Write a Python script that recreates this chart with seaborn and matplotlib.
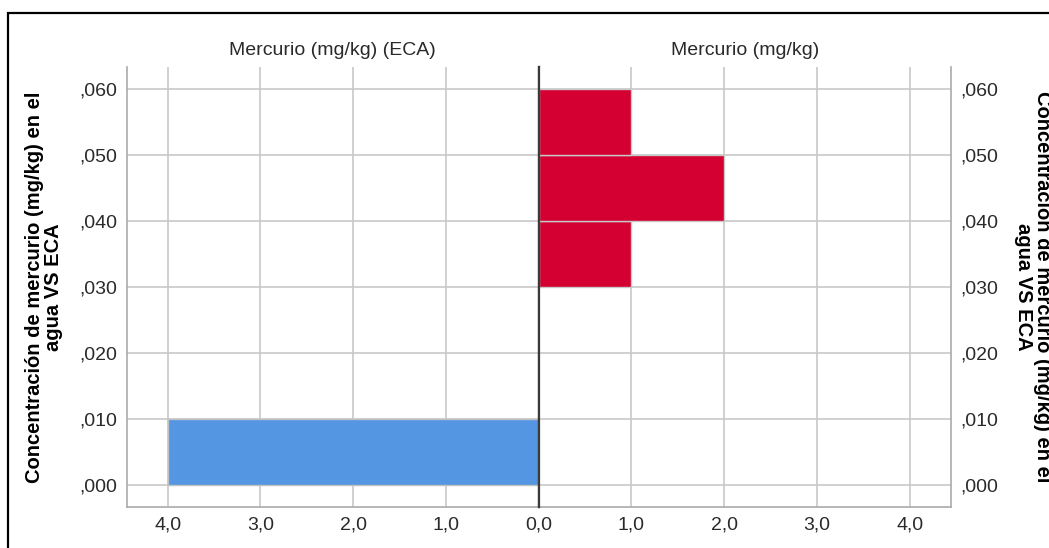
import matplotlib
matplotlib.use('Agg')
import matplotlib.pyplot as plt
import seaborn as sns
import numpy as np

# concentracion (centro de cada clase de 0,010) y numero de casos
eca_conc = [0.005]
eca_count = [4]
hg_conc = [0.035, 0.045, 0.055]
hg_count = [1, 2, 1]

left_title = 'Mercurio (mg/kg) (ECA)'
right_title = 'Mercurio (mg/kg)'
y_label = 'Concentración de mercurio (mg/kg) en el\nagua VS ECA'
y_ticks = [0.0, 0.01, 0.02, 0.03, 0.04, 0.05, 0.06]
x_ticks = [0, 1, 2, 3, 4]

sns.set_style('white')
plt.rcParams['font.family'] = ['Liberation Sans', 'DejaVu Sans']

W, H = 1049, 548
fig = plt.figure(figsize=(W / 100, H / 100), dpi=100)

x0, xc, x1 = 127, 538.5, 951
ytop, ybot = 67, 507
ax_l = fig.add_axes([x0 / W, 1 - ybot / H, (xc - x0) / W, (ybot - ytop) / H])
ax_r = fig.add_axes([xc / W, 1 - ybot / H, (x1 - xc) / W, (ybot - ytop) / H])

grid_c = '#c8c8c8'
dark = '#3a3a3a'
txt_c = '#2a2a2a'
fs = 14


def fmt_y(v):
    s = f'{v:.3f}'.replace('.', ',')
    return s[1:] if s.startswith('0,') else s


def fmt_x(v):
    return f'{v:.1f}'.replace('.', ',')


sns.histplot(y=eca_conc, weights=eca_count, binwidth=0.01, binrange=(0, 0.01),
             color='#5596e3', alpha=1, edgecolor='#c0c0c0', linewidth=1, ax=ax_l)
sns.histplot(y=hg_conc, weights=hg_count, binwidth=0.01, binrange=(0.03, 0.06),
             color='#d40031', alpha=1, edgecolor='#c8c8c8', linewidth=1, ax=ax_r)

for ax in (ax_l, ax_r):
    ax.set_ylim(-0.0033, 0.0633)
    ax.set_xlim(0, 4.44)
    ax.set_xticks(x_ticks)
    ax.set_yticks(y_ticks)
    ax.set_xlabel('')
    ax.set_ylabel('')
    ax.grid(True, color=grid_c, linewidth=1.2)
    ax.set_axisbelow(True)
    ax.tick_params(length=0, pad=7)
    ax.spines['top'].set_visible(False)
    for s in ('left', 'right', 'bottom'):
        ax.spines[s].set_color('#aaaaaa')
        ax.spines[s].set_linewidth(1.2)

# el 0,0 se escribe solo una vez (en el panel derecho)
ax_l.set_xticklabels([''] + [fmt_x(t) for t in x_ticks[1:]], fontsize=fs, color=txt_c)
ax_r.set_xticklabels([fmt_x(t) for t in x_ticks], fontsize=fs, color=txt_c)

ax_l.invert_xaxis()
ax_l.set_yticklabels([fmt_y(v) for v in y_ticks], fontsize=fs, color=txt_c)
ax_l.spines['right'].set_color(dark)
ax_l.spines['right'].set_linewidth(1.6)
ax_l.spines['right'].set_zorder(5)

ax_r.yaxis.tick_right()
ax_r.set_yticklabels([fmt_y(v) for v in y_ticks], fontsize=fs, color=txt_c)
ax_r.spines['left'].set_color(dark)
ax_r.spines['left'].set_linewidth(1.6)
ax_r.spines['left'].set_zorder(5)

fig.text((x0 + xc) / 2 / W, 1 - 50 / H, left_title, ha='center', va='center',
         fontsize=fs, color=txt_c)
fig.text((xc + x1) / 2 / W, 1 - 50 / H, right_title, ha='center', va='center',
         fontsize=fs, color=txt_c)

yc = 1 - (ytop + ybot) / 2 / H
fig.text(44 / W, yc, y_label, rotation=90, ha='center', va='center',
         fontsize=14.5, fontweight='bold', multialignment='center', color='black',
         linespacing=1.0)
fig.text(1033 / W, yc, y_label, rotation=270, ha='center', va='center',
         fontsize=14.5, fontweight='bold', multialignment='center', color='black',
         linespacing=1.0)

# marco exterior (solo se ven los lados izquierdo y superior)
frame = plt.Rectangle((8 / W, -0.2), 2, 1 - 13 / H + 0.2, transform=fig.transFigure,
                      fill=False, edgecolor='black', linewidth=1.6)
fig.add_artist(frame)

fig.savefig('out.png', dpi=100)
